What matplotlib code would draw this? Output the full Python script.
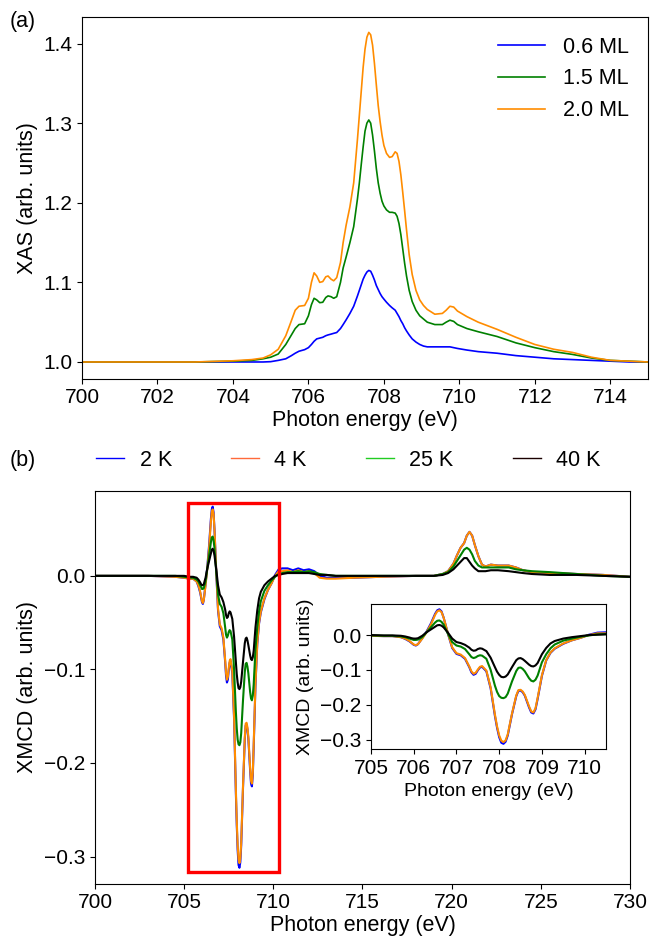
import matplotlib
matplotlib.use('Agg')
import matplotlib.pyplot as plt
from matplotlib.patches import Rectangle
from matplotlib.lines import Line2D

plt.rcParams['font.family'] = ['Liberation Sans', 'DejaVu Sans']
plt.rcParams['axes.unicode_minus'] = True

# ---- (a) XAS ----
energia_xas = [700.0, 703.0, 704.0, 704.5, 704.8, 705.0, 705.2, 705.4, 705.55, 705.65,
               705.75, 705.9, 706.0, 706.08, 706.15, 706.22, 706.3, 706.38, 706.46, 706.52,
               706.6, 706.67, 706.75, 706.85, 706.92, 707.0, 707.1, 707.2, 707.3, 707.35,
               707.4, 707.45, 707.5, 707.55, 707.6, 707.65, 707.7, 707.75, 707.8, 707.85,
               707.9, 707.95, 708.0, 708.07, 708.15, 708.22, 708.3, 708.35, 708.4, 708.45,
               708.5, 708.55, 708.6, 708.67, 708.75, 708.85, 708.95, 709.05, 709.15, 709.35,
               709.55, 709.65, 709.75, 709.85, 709.95, 710.2, 710.5, 711.0, 711.5, 712.0,
               712.5, 713.0, 713.5, 714.0, 714.5, 715.0]

xas_06ml = [1.0, 1.0, 1.0, 1.0, 1.0, 1.0004, 1.002, 1.004, 1.008, 1.011,
            1.0135, 1.0155, 1.018, 1.022, 1.026, 1.029, 1.030, 1.031, 1.033, 1.034,
            1.035, 1.036, 1.037, 1.042, 1.047, 1.053, 1.061, 1.070, 1.083, 1.090,
            1.097, 1.104, 1.109, 1.113, 1.115, 1.114, 1.109, 1.103, 1.096, 1.091,
            1.086, 1.082, 1.079, 1.075, 1.071, 1.068, 1.065, 1.061, 1.057, 1.052,
            1.048, 1.043, 1.039, 1.034, 1.029, 1.025, 1.022, 1.020, 1.019, 1.019,
            1.019, 1.019, 1.019, 1.018, 1.017, 1.015, 1.013, 1.011, 1.008, 1.006,
            1.004, 1.003, 1.002, 1.001, 1.0, 1.0]

xas_15ml = [1.0, 1.0, 1.001, 1.002, 1.004, 1.006, 1.010, 1.022, 1.034, 1.042,
            1.047, 1.048, 1.058, 1.072, 1.080, 1.078, 1.0745, 1.075, 1.081, 1.083,
            1.082, 1.080, 1.082, 1.100, 1.118, 1.132, 1.150, 1.170, 1.205, 1.225,
            1.248, 1.270, 1.290, 1.300, 1.304, 1.300, 1.285, 1.265, 1.243, 1.225,
            1.212, 1.202, 1.196, 1.191, 1.188, 1.188, 1.187, 1.183, 1.174, 1.160,
            1.142, 1.124, 1.108, 1.090, 1.076, 1.065, 1.058, 1.054, 1.050, 1.047,
            1.047, 1.050, 1.0525, 1.051, 1.047, 1.042, 1.038, 1.032, 1.024, 1.018,
            1.013, 1.0095, 1.005, 1.002, 1.001, 1.0]

xas_20ml = [1.0, 1.0, 1.0015, 1.003, 1.005, 1.009, 1.016, 1.033, 1.052, 1.065,
            1.070, 1.071, 1.080, 1.100, 1.112, 1.108, 1.100, 1.101, 1.107, 1.108,
            1.104, 1.102, 1.106, 1.125, 1.150, 1.172, 1.195, 1.225, 1.280, 1.310,
            1.340, 1.370, 1.393, 1.408, 1.414, 1.411, 1.398, 1.375, 1.348, 1.322,
            1.302, 1.285, 1.272, 1.262, 1.257, 1.258, 1.264, 1.262, 1.252, 1.235,
            1.213, 1.190, 1.166, 1.135, 1.110, 1.090, 1.078, 1.071, 1.066, 1.060,
            1.061, 1.065, 1.070, 1.069, 1.064, 1.057, 1.050, 1.041, 1.031, 1.022,
            1.016, 1.012, 1.006, 1.002, 1.001, 1.0]

rotulos_xas = ['0.6 ML', '1.5 ML', '2.0 ML']

# ---- (b) XMCD ----
energia_xmcd = [700.0, 703.0, 704.5, 705.0, 705.3, 705.5, 705.7, 705.8, 705.9, 705.95,
                706.0, 706.05, 706.1, 706.2, 706.3, 706.4, 706.5, 706.55, 706.6, 706.65,
                706.7, 706.8, 706.9, 707.0, 707.1, 707.2, 707.3, 707.35, 707.4, 707.45,
                707.5, 707.55, 707.6, 707.7, 707.8, 707.9, 707.95, 708.0, 708.05, 708.1,
                708.15, 708.2, 708.3, 708.4, 708.45, 708.5, 708.55, 708.6, 708.7, 708.75,
                708.8, 708.85, 708.9, 709.0, 709.1, 709.2, 709.3, 709.5, 709.7, 709.9,
                710.1, 710.3, 710.5, 710.8, 711.1, 711.4, 711.7, 712.0, 712.3, 712.6,
                713.0, 713.5, 714.5, 716.0, 718.0, 719.0, 719.5, 719.8, 720.1, 720.3,
                720.5, 720.7, 720.85, 721.0, 721.15, 721.3, 721.5, 721.7, 721.9, 722.2,
                722.6, 723.2, 723.6, 724.0, 724.5, 725.5, 727.0, 728.5, 730.0]

xmcd_2k = [0.0, 0.0, -0.001, -0.002, -0.003, -0.003, -0.006, -0.011, -0.018, -0.023,
           -0.028, -0.030, -0.026, -0.009, 0.010, 0.033, 0.061, 0.071, 0.074, 0.068,
           0.050, 0.004, -0.037, -0.054, -0.058, -0.068, -0.092, -0.107, -0.114, -0.111,
           -0.101, -0.093, -0.091, -0.104, -0.153, -0.232, -0.266, -0.293, -0.309, -0.312,
           -0.306, -0.288, -0.227, -0.175, -0.160, -0.159, -0.164, -0.174, -0.208, -0.222,
           -0.225, -0.213, -0.183, -0.117, -0.073, -0.051, -0.039, -0.025, -0.015, -0.008,
           0.001, 0.007, 0.008, 0.008, 0.006, 0.008, 0.006, 0.007, 0.005, 0.000,
           -0.002, -0.002, -0.002, -0.001, 0.0, 0.0, 0.002, 0.005, 0.013, 0.022,
           0.030, 0.035, 0.043, 0.047, 0.043, 0.033, 0.021, 0.012, 0.010, 0.012,
           0.011, 0.011, 0.009, 0.006, 0.004, 0.003, 0.002, 0.001, -0.001]

xmcd_4k = [0.0, 0.0, -0.001, -0.002, -0.003, -0.003, -0.006, -0.010, -0.017, -0.022,
           -0.027, -0.029, -0.026, -0.010, 0.008, 0.030, 0.058, 0.068, 0.071, 0.066,
           0.050, 0.005, -0.035, -0.052, -0.056, -0.066, -0.090, -0.104, -0.111, -0.108,
           -0.099, -0.091, -0.089, -0.102, -0.150, -0.228, -0.262, -0.288, -0.303, -0.307,
           -0.302, -0.285, -0.225, -0.173, -0.158, -0.157, -0.162, -0.172, -0.205, -0.219,
           -0.222, -0.210, -0.180, -0.115, -0.072, -0.050, -0.038, -0.024, -0.015, -0.008,
           0.000, 0.005, 0.005, 0.006, 0.004, 0.006, 0.004, 0.005, 0.003, -0.002,
           -0.003, -0.003, -0.002, -0.001, 0.0, 0.0, 0.002, 0.005, 0.013, 0.022,
           0.030, 0.035, 0.043, 0.047, 0.043, 0.033, 0.021, 0.012, 0.010, 0.012,
           0.011, 0.011, 0.009, 0.006, 0.004, 0.003, 0.002, 0.001, -0.001]

xmcd_25k = [0.0, 0.0, 0.0, -0.001, -0.002, -0.002, -0.004, -0.006, -0.010, -0.012,
            -0.014, -0.014, -0.013, -0.006, 0.008, 0.022, 0.036, 0.041, 0.042, 0.038,
            0.030, 0.004, -0.020, -0.030, -0.033, -0.040, -0.055, -0.063, -0.066, -0.064,
            -0.060, -0.058, -0.059, -0.068, -0.100, -0.145, -0.163, -0.175, -0.180, -0.181,
            -0.178, -0.168, -0.133, -0.103, -0.094, -0.093, -0.097, -0.104, -0.124, -0.131,
            -0.133, -0.128, -0.116, -0.078, -0.055, -0.038, -0.027, -0.016, -0.010, -0.005,
            -0.001, 0.002, 0.003, 0.004, 0.004, 0.005, 0.004, 0.005, 0.004, 0.002,
            0.001, 0.0, 0.0, 0.0, 0.0, 0.0, 0.002, 0.004, 0.010, 0.016,
            0.022, 0.028, 0.030, 0.028, 0.023, 0.016, 0.011, 0.009, 0.009, 0.009,
            0.009, 0.009, 0.007, 0.006, 0.005, 0.004, 0.002, 0.0, -0.001]

xmcd_40k = [0.0, 0.0, 0.0, 0.0, -0.001, -0.001, -0.002, -0.004, -0.007, -0.009,
            -0.010, -0.010, -0.009, -0.002, 0.008, 0.016, 0.024, 0.028, 0.029, 0.027,
            0.022, 0.007, -0.010, -0.020, -0.023, -0.028, -0.036, -0.042, -0.045, -0.044,
            -0.040, -0.038, -0.039, -0.046, -0.065, -0.092, -0.105, -0.114, -0.120, -0.121,
            -0.119, -0.113, -0.092, -0.072, -0.067, -0.066, -0.069, -0.074, -0.085, -0.089,
            -0.090, -0.087, -0.080, -0.055, -0.037, -0.024, -0.017, -0.010, -0.006, -0.003,
            0.0, 0.001, 0.002, 0.003, 0.003, 0.003, 0.003, 0.003, 0.002, 0.001,
            0.001, 0.0, 0.0, 0.0, 0.0, 0.0, 0.001, 0.003, 0.007, 0.011,
            0.015, 0.019, 0.019, 0.015, 0.011, 0.008, 0.005, 0.005, 0.005, 0.006,
            0.006, 0.005, 0.004, 0.003, 0.002, 0.001, 0.001, 0.0, -0.001]

rotulos_xmcd = ['2 K', '4 K', '25 K', '40 K']

# regiao destacada (retangulo vermelho)
regiao_x = [705.2, 710.3]
regiao_y = [-0.317, 0.078]

cores_xas = ['#0000ff', '#008000', '#ff8c00']
cores_xmcd = ['#0000ff', '#ff8c00', '#008000', '#000000']
cores_legenda_b = ['#0000ff', '#ff6a3a', '#22cc22', '#1a0000']

fig = plt.figure(figsize=(6.51, 9.39), dpi=100)

# painel (a)
ax1 = fig.add_axes([0.126, 0.5967, 0.8694, 0.3849])
for y, cor, rot in zip([xas_06ml, xas_15ml, xas_20ml], cores_xas, rotulos_xas):
    ax1.plot(energia_xas, y, color=cor, lw=1.2, label=rot)
ax1.set_xlim(700, 715)
ax1.set_ylim(0.979, 1.433)
ax1.set_xticks(range(700, 715, 2))
ax1.set_yticks([1.0, 1.1, 1.2, 1.3, 1.4])
ax1.tick_params(labelsize=15)
ax1.set_xlabel('Photon energy (eV)', fontsize=15.5, labelpad=2)
ax1.set_ylabel('XAS (arb. units)', fontsize=15.5)
ax1.legend(frameon=False, fontsize=15.5, handlelength=2.2, loc='upper right')
fig.text(0.015, 0.977, '(a)', fontsize=15.5, va='center')

# painel (b)
ax2 = fig.add_axes([0.1459, 0.0589, 0.8218, 0.4185])
series_b = [xmcd_2k, xmcd_4k, xmcd_25k, xmcd_40k]
for y, cor in zip(series_b, cores_xmcd):
    ax2.plot(energia_xmcd, y, color=cor, lw=1.5)
ax2.add_patch(Rectangle((regiao_x[0], regiao_y[0]), regiao_x[1] - regiao_x[0],
                        regiao_y[1] - regiao_y[0], fill=False, edgecolor='red', lw=2.4, zorder=5))
ax2.set_xlim(700, 730)
ax2.set_ylim(-0.329, 0.091)
ax2.set_xticks(range(700, 731, 5))
ax2.set_yticks([0.0, -0.1, -0.2, -0.3])
ax2.tick_params(labelsize=15)
ax2.set_xlabel('Photon energy (eV)', fontsize=15.5, labelpad=2)
ax2.set_ylabel('XMCD (arb. units)', fontsize=15.5)
fig.text(0.015, 0.51, '(b)', fontsize=15.5, va='center')

handles = [Line2D([], [], color=c, lw=1) for c in cores_legenda_b]
fig.legend(handles, rotulos_xmcd, ncol=4, mode='expand', frameon=False, fontsize=15.5,
           handlelength=1.3, handletextpad=0.7, borderaxespad=0,
           bbox_to_anchor=(0.135, 0.49, 0.8, 0.04), loc='center')

# inset
ax3 = fig.add_axes([0.5699, 0.2023, 0.361, 0.1544])
for y, cor in zip(series_b, cores_xmcd):
    ax3.plot(energia_xmcd, y, color=cor, lw=1.5)
ax3.set_xlim(705, 710.5)
ax3.set_ylim(-0.327, 0.089)
ax3.set_xticks(range(705, 711))
ax3.set_yticks([0.0, -0.1, -0.2, -0.3])
ax3.tick_params(labelsize=15)
ax3.set_xlabel('Photon energy (eV)', fontsize=14)
ax3.set_ylabel('XMCD (arb. units)', fontsize=14)

plt.savefig('out.png', dpi=100)
plt.close()
